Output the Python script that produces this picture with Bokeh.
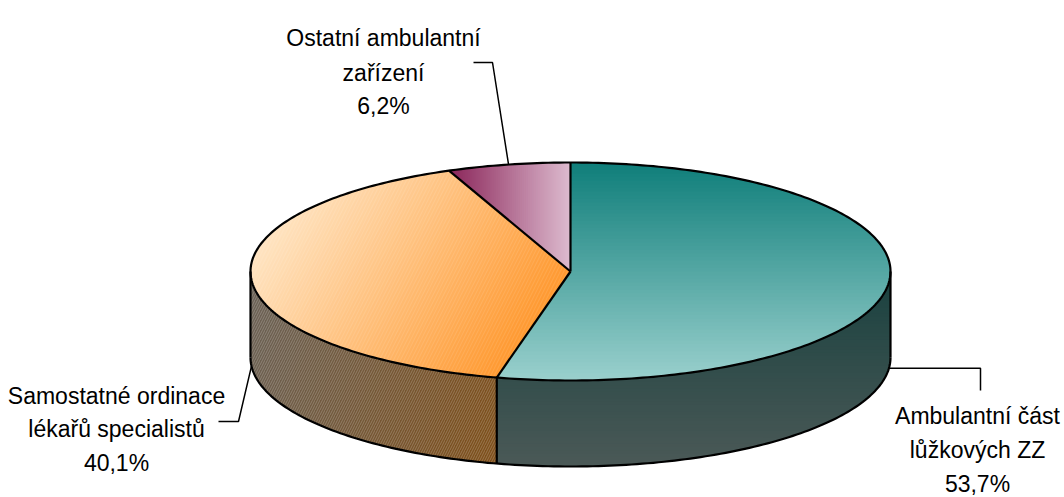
import math
from bokeh.plotting import figure
from bokeh.models import Range1d
from bokeh.core.properties import value
from bokeh.embed import file_html
from bokeh.resources import INLINE

# ---- data ----
categories = ["Ambulantní část lůžkových ZZ",
              "Samostatné ordinace lékařů specialistů",
              "Ostatní ambulantní zařízení"]
label_lines = [["Ambulantní část", "lůžkových ZZ"],
               ["Samostatné ordinace", "lékařů specialistů"],
               ["Ostatní ambulantní", "zařízení"]]
shares = [53.7, 40.1, 6.2]

# ---- styling / layout ----
top_grad = [("#0f7e7a", "#9ad0cd"), ("#ffe4c2", "#ff9930"), ("#8a2559", "#ddbbcf")]
side_grad = [("#19413f", "#4b5957"), ("#6a6258", "#7e4e18"), ("#5a1a3a", "#7a3a5a")]
CX, CY, RX, RY, DEPTH = 570.0, 271.0, 320.0, 109.0, 86.0
FONT = "Liberation Sans"


def pt(theta, drop=0.0):
    t = math.radians(theta)
    return (CX + RX * math.sin(t), CY - RY * math.cos(t) + drop)


def arc(a0, a1, drop=0.0):
    n = max(2, int(abs(a1 - a0) / 1.0) + 1)
    return [pt(a0 + (a1 - a0) * i / (n - 1), drop) for i in range(n)]


def clip(poly, nx, ny, c):
    out = []
    if not poly:
        return out
    m = len(poly)
    for i in range(m):
        p, q = poly[i], poly[(i + 1) % m]
        dp = nx * p[0] + ny * p[1] - c
        dq = nx * q[0] + ny * q[1] - c
        if dp <= 0:
            out.append(p)
        if (dp < 0 < dq) or (dq < 0 < dp):
            s = dp / (dp - dq)
            out.append((p[0] + s * (q[0] - p[0]), p[1] + s * (q[1] - p[1])))
    return out


def hex2rgb(h):
    h = h.lstrip("#")
    return tuple(int(h[i:i + 2], 16) for i in (0, 2, 4))


def mix(c0, c1, f):
    a, b = hex2rgb(c0), hex2rgb(c1)
    return "#%02x%02x%02x" % tuple(int(round(a[i] + (b[i] - a[i]) * f)) for i in range(3))


def gradient(p, poly, d, c0, c1, n=60):
    L = math.hypot(*d)
    nx, ny = d[0] / L, d[1] / L
    proj = [nx * x + ny * y for x, y in poly]
    tmin, tmax = min(proj), max(proj)
    step = (tmax - tmin) / n
    xs, ys, cols = [], [], []
    for i in range(n):
        t0 = tmin + i * step
        t1 = t0 + step + 0.9
        sub = clip(poly, nx, ny, t1)
        sub = clip(sub, -nx, -ny, -t0)
        if len(sub) < 3:
            continue
        xs.append([q[0] for q in sub])
        ys.append([-q[1] for q in sub])
        cols.append(mix(c0, c1, (i + 0.5) / n))
    p.patches(xs, ys, fill_color=cols, line_color=None)


p = figure(width=1064, height=497, output_backend="svg", toolbar_location=None,
           x_range=Range1d(0, 1064), y_range=Range1d(-497, 0),
           min_border=0, outline_line_color=None, background_fill_color="white",
           border_fill_color="white")
p.axis.visible = False
p.grid.visible = False

total = sum(shares)
bounds = []
acc = 0.0
for v in shares:
    a0 = acc / total * 360.0
    acc += v
    a1 = acc / total * 360.0
    bounds.append((a0, a1))

# sides (front half only)
for i, (a0, a1) in enumerate(bounds):
    a, b = max(a0, 90.0), min(a1, 270.0)
    if a < b:
        poly = arc(a, b) + arc(b, a, DEPTH)
        d = (0, 1) if i == 0 else (1, 0.35)
        gradient(p, poly, d, side_grad[i][0], side_grad[i][1])
        if i == 1:
            p.patch([q[0] for q in poly], [-q[1] for q in poly], fill_alpha=0,
                    line_color=None, hatch_pattern="/", hatch_color="white",
                    hatch_alpha=0.22, hatch_scale=5, hatch_weight=1)

# tops
top_dirs = [(0, 1), (250, 170), (1, 0)]
for i, (a0, a1) in enumerate(bounds):
    poly = [(CX, CY)] + arc(a0, a1)
    gradient(p, poly, top_dirs[i], top_grad[i][0], top_grad[i][1])
    if i == 1:
        p.patch([q[0] for q in poly], [-q[1] for q in poly], fill_alpha=0,
                line_color=None, hatch_pattern="/", hatch_color="white",
                hatch_alpha=0.10, hatch_scale=7, hatch_weight=1)

# outlines
ol_x, ol_y = [], []
ell = arc(0, 360)
ol_x.append([q[0] for q in ell]); ol_y.append([-q[1] for q in ell])
bot = arc(90, 270, DEPTH)
ol_x.append([q[0] for q in bot]); ol_y.append([-q[1] for q in bot])
for a0, a1 in bounds:
    q = pt(a0)
    ol_x.append([CX, q[0]]); ol_y.append([-CY, -q[1]])
for a in [90.0, 270.0] + [b[0] for b in bounds if 90 < b[0] < 270]:
    q0, q1 = pt(a), pt(a, DEPTH)
    ol_x.append([q0[0], q1[0]]); ol_y.append([-q0[1], -q1[1]])
p.multi_line(ol_x, ol_y, line_color="black", line_width=2.2, line_join="round")

# leader lines and labels
mids = [(a0 + a1) / 2 for a0, a1 in bounds]
a = pt(mids[0], DEPTH - 2)
p.line([a[0], 980, 980], [-a[1], -a[1], -390], line_color="black", line_width=1.5)
a = pt(mids[1], DEPTH)
p.line([a[0], 238, 218], [-a[1], -421, -421], line_color="black", line_width=1.5)
a = pt(mids[2])
p.line([a[0], 492, 473], [-a[1], -62, -62], line_color="black", line_width=1.5)

label_pos = [(977, [415, 449, 483]), (116, [395, 428, 462]), (383, [37, 72, 105])]
for i, (x, bl) in enumerate(label_pos):
    pct = ("%.1f" % shares[i]).replace(".", ",") + "%"
    lines = label_lines[i] + [pct]
    p.text(x=[x] * 3, y=[-b for b in bl], text=lines, text_align="center",
           text_baseline="alphabetic", text_font=value(FONT),
           text_font_size="23px", text_color="black")

open("out.html", "w").write(file_html(p, INLINE))
